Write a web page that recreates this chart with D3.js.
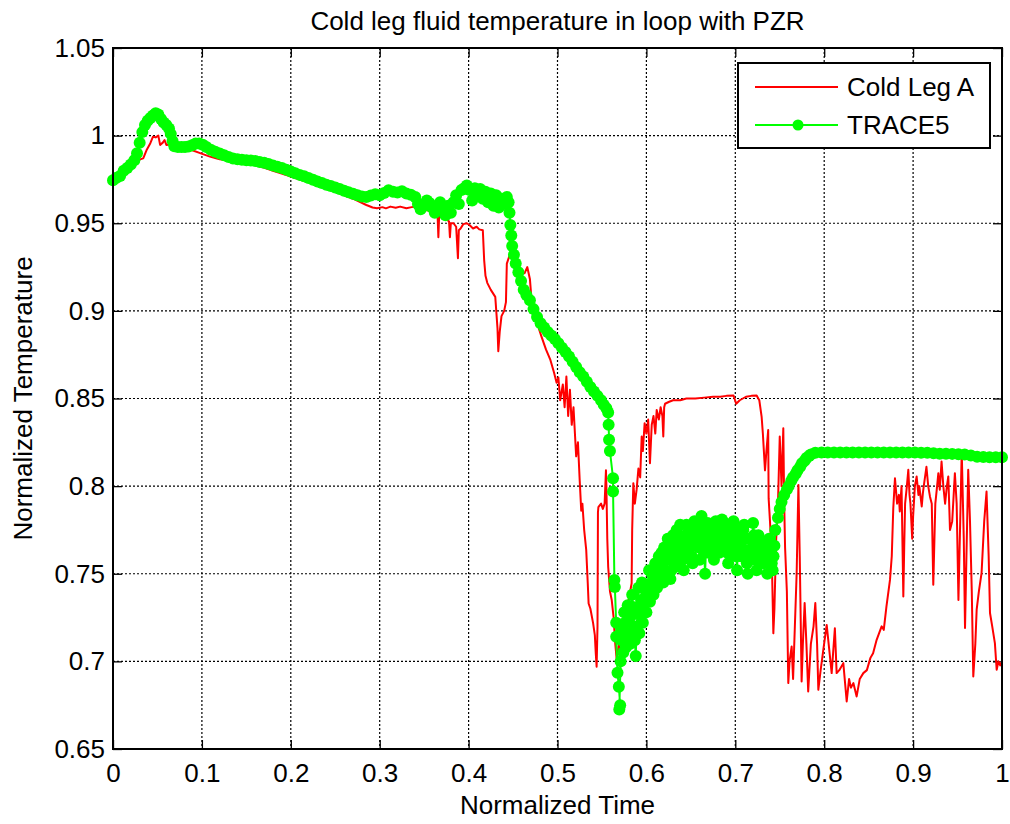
<!DOCTYPE html>
<html>
<head>
<meta charset="utf-8">
<script src="https://cdn.jsdelivr.net/npm/d3@7/dist/d3.min.js"></script>
<style>
  html, body { margin: 0; padding: 0; background: #fff; }
  svg text { font-family: "Liberation Sans", Arial, sans-serif; fill: #000; }
</style>
</head>
<body>
<svg id="chart" width="1010" height="824"></svg>
<script>
// ---- data ----------------------------------------------------------------
const xTicks = [0, 0.1, 0.2, 0.3, 0.4, 0.5, 0.6, 0.7, 0.8, 0.9, 1];
const yTicks = [0.65, 0.7, 0.75, 0.8, 0.85, 0.9, 0.95, 1, 1.05];
const xTickLabels = ["0", "0.1", "0.2", "0.3", "0.4", "0.5", "0.6", "0.7", "0.8", "0.9", "1"];
const yTickLabels = ["0.65", "0.7", "0.75", "0.8", "0.85", "0.9", "0.95", "1", "1.05"];
const seriesNames = ["Cold Leg A", "TRACE5"];

// Cold Leg A (red line)
const coldLegA = [
  [0.000, 0.9745], [0.008, 0.9770], [0.016, 0.9800], [0.022, 0.9830], [0.028, 0.9860],
  [0.034, 0.9870], [0.038, 0.9920], [0.042, 0.9957], [0.045, 0.9994], [0.048, 0.9990],
  [0.051, 1.0000], [0.053, 0.9947], [0.056, 0.9960], [0.058, 0.9975], [0.060, 0.9947],
  [0.064, 0.9950], [0.068, 0.9957], [0.072, 0.9945], [0.080, 0.9930], [0.090, 0.9915],
  [0.098, 0.9900], [0.109, 0.9880], [0.120, 0.9865], [0.132, 0.9858], [0.143, 0.9850],
  [0.155, 0.9840], [0.168, 0.9820], [0.180, 0.9800], [0.195, 0.9775], [0.210, 0.9750],
  [0.225, 0.9725], [0.240, 0.9700], [0.255, 0.9670], [0.270, 0.9640], [0.285, 0.9604],
  [0.292, 0.9590], [0.297, 0.9586], [0.303, 0.9592], [0.307, 0.9585], [0.312, 0.9595],
  [0.318, 0.9588], [0.323, 0.9595], [0.330, 0.9586], [0.336, 0.9592], [0.342, 0.9595],
  [0.350, 0.9580], [0.356, 0.9570], [0.362, 0.9565], [0.365, 0.9560], [0.366, 0.9420],
  [0.367, 0.9560], [0.372, 0.9540], [0.376, 0.9520], [0.378, 0.9510], [0.379, 0.9420],
  [0.380, 0.9500], [0.383, 0.9500], [0.386, 0.9480], [0.388, 0.9300], [0.389, 0.9460],
  [0.391, 0.9470], [0.394, 0.9495], [0.398, 0.9500], [0.401, 0.9490], [0.405, 0.9470],
  [0.409, 0.9480], [0.412, 0.9465], [0.416, 0.9460], [0.4175, 0.9290], [0.419, 0.9200],
  [0.421, 0.9160], [0.425, 0.9120], [0.430, 0.9080], [0.4325, 0.8900], [0.4334, 0.8770],
  [0.435, 0.8880], [0.437, 0.8970], [0.440, 0.9000], [0.442, 0.9050], [0.443, 0.9270],
  [0.447, 0.9330], [0.452, 0.9250], [0.458, 0.9220], [0.463, 0.9215], [0.466, 0.9250],
  [0.469, 0.9180], [0.471, 0.9050], [0.475, 0.8990], [0.479, 0.8900], [0.482, 0.8853],
  [0.487, 0.8780], [0.492, 0.8720], [0.496, 0.8650], [0.499, 0.8590], [0.501, 0.8620],
  [0.503, 0.8490], [0.506, 0.8580], [0.508, 0.8450], [0.510, 0.8625], [0.512, 0.8400],
  [0.514, 0.8550], [0.516, 0.8350], [0.518, 0.8450], [0.521, 0.8170], [0.523, 0.8250],
  [0.525, 0.8030], [0.5267, 0.7860], [0.528, 0.7900], [0.530, 0.7750], [0.5323, 0.7636],
  [0.534, 0.7450], [0.535, 0.7330], [0.537, 0.7300], [0.540, 0.7220], [0.542, 0.7150],
  [0.543, 0.7050], [0.544, 0.6970], [0.545, 0.7200], [0.5455, 0.7850], [0.546, 0.7880],
  [0.549, 0.7900], [0.551, 0.7870], [0.553, 0.7900], [0.5545, 0.8090], [0.555, 0.8000],
  [0.556, 0.7700], [0.557, 0.7540], [0.559, 0.7400], [0.561, 0.7350], [0.563, 0.7256],
  [0.565, 0.7100], [0.5666, 0.7010], [0.569, 0.7100], [0.572, 0.7030], [0.574, 0.7066],
  [0.577, 0.7200], [0.580, 0.7350], [0.5834, 0.7446], [0.584, 0.7750], [0.5853, 0.8017],
  [0.587, 0.7900], [0.589, 0.7980], [0.591, 0.8100], [0.593, 0.8050], [0.5947, 0.8283],
  [0.596, 0.8200], [0.598, 0.8359], [0.600, 0.8300], [0.602, 0.8380], [0.604, 0.8131],
  [0.606, 0.8350], [0.608, 0.8400], [0.610, 0.8300], [0.6116, 0.8435], [0.614, 0.8380],
  [0.616, 0.8450], [0.618, 0.8400], [0.619, 0.8283], [0.620, 0.8450], [0.621, 0.8470],
  [0.625, 0.8480], [0.630, 0.8490], [0.638, 0.8490], [0.645, 0.8500], [0.655, 0.8500],
  [0.665, 0.8505], [0.675, 0.8510], [0.683, 0.8510], [0.690, 0.8515], [0.698, 0.8517],
  [0.701, 0.8470], [0.705, 0.8490], [0.712, 0.8510], [0.718, 0.8515], [0.724, 0.8517],
  [0.727, 0.8490], [0.7296, 0.8397], [0.731, 0.8300], [0.7334, 0.8090], [0.735, 0.8200],
  [0.737, 0.8320], [0.7375, 0.7930], [0.739, 0.7800], [0.741, 0.7600], [0.7428, 0.7160],
  [0.744, 0.7300], [0.746, 0.7700], [0.748, 0.7900], [0.750, 0.8283], [0.752, 0.8000],
  [0.754, 0.8330], [0.755, 0.7900], [0.756, 0.7650], [0.758, 0.7400], [0.7596, 0.6876],
  [0.761, 0.7000], [0.7634, 0.7085], [0.765, 0.6900], [0.767, 0.7200], [0.769, 0.7500],
  [0.771, 0.8007], [0.7725, 0.7600], [0.7746, 0.6885], [0.776, 0.7100], [0.778, 0.7333],
  [0.780, 0.7100], [0.782, 0.6828], [0.785, 0.7100], [0.788, 0.7200], [0.790, 0.7333],
  [0.792, 0.7100], [0.7934, 0.6838], [0.796, 0.6950], [0.799, 0.7066], [0.8028, 0.7208],
  [0.805, 0.7100], [0.8084, 0.6933], [0.812, 0.7189], [0.814, 0.6933], [0.817, 0.6950],
  [0.8215, 0.6990], [0.8253, 0.6771], [0.828, 0.6900], [0.830, 0.6850], [0.8328, 0.6876],
  [0.8365, 0.6800], [0.840, 0.6900], [0.844, 0.6933], [0.848, 0.6950], [0.852, 0.7020],
  [0.855, 0.7047], [0.859, 0.7123], [0.8646, 0.7200], [0.867, 0.7180], [0.870, 0.7313],
  [0.874, 0.7465], [0.876, 0.7600], [0.8777, 0.7874], [0.8796, 0.8045], [0.882, 0.7900],
  [0.884, 0.7950], [0.885, 0.7855], [0.887, 0.8000], [0.889, 0.7370], [0.890, 0.7650],
  [0.891, 0.7900], [0.893, 0.8000], [0.8946, 0.8093], [0.896, 0.7950], [0.897, 0.7900],
  [0.899, 0.7700], [0.900, 0.7826], [0.902, 0.8000], [0.904, 0.8055], [0.906, 0.7950],
  [0.907, 0.8000], [0.9097, 0.7884], [0.911, 0.7960], [0.912, 0.8000], [0.915, 0.8110],
  [0.917, 0.8000], [0.919, 0.7940], [0.921, 0.7900], [0.9227, 0.7437], [0.925, 0.7900],
  [0.927, 0.8000], [0.9284, 0.8074], [0.930, 0.7980], [0.932, 0.8140], [0.934, 0.8000],
  [0.936, 0.7900], [0.938, 0.8000], [0.9396, 0.8055], [0.9415, 0.7750], [0.944, 0.7800],
  [0.947, 0.8074], [0.949, 0.7900], [0.951, 0.7350], [0.953, 0.7800], [0.9547, 0.8197],
  [0.957, 0.7700], [0.9584, 0.7190], [0.960, 0.7600], [0.962, 0.8093], [0.964, 0.7800],
  [0.966, 0.7400], [0.9677, 0.6914], [0.970, 0.7100], [0.9715, 0.7295], [0.974, 0.7400],
  [0.977, 0.7503], [0.980, 0.7800], [0.9826, 0.7969], [0.985, 0.7600], [0.9865, 0.7276],
  [0.989, 0.7200], [0.992, 0.7104], [0.994, 0.6952], [0.996, 0.7000], [0.998, 0.6977],
  [1.000, 0.7000]
];

// TRACE5 (green line with dot markers)
const trace5 = [
  [0.000, 0.9745], [0.004, 0.9760], [0.008, 0.9770], [0.012, 0.9800], [0.016, 0.9815],
  [0.020, 0.9835], [0.024, 0.9860], [0.027, 0.9900], [0.030, 0.9960], [0.033, 1.0020],
  [0.036, 1.0060], [0.039, 1.0085], [0.042, 1.0100], [0.045, 1.0115], [0.048, 1.0128],
  [0.051, 1.0120], [0.054, 1.0095], [0.057, 1.0075], [0.060, 1.0060], [0.063, 1.0040],
  [0.065, 1.0010], [0.067, 0.9970], [0.069, 0.9940], [0.073, 0.9935], [0.077, 0.9935],
  [0.081, 0.9935], [0.085, 0.9938], [0.089, 0.9945], [0.093, 0.9955], [0.097, 0.9955],
  [0.101, 0.9948], [0.105, 0.9935], [0.110, 0.9920], [0.115, 0.9908], [0.120, 0.9898],
  [0.125, 0.9888], [0.130, 0.9878], [0.135, 0.9870], [0.140, 0.9865], [0.145, 0.9862],
  [0.150, 0.9860], [0.155, 0.9858], [0.160, 0.9855], [0.165, 0.9850], [0.170, 0.9845],
  [0.175, 0.9838], [0.180, 0.9830], [0.185, 0.9822], [0.190, 0.9815], [0.195, 0.9805],
  [0.200, 0.9795], [0.205, 0.9785], [0.210, 0.9776], [0.215, 0.9768], [0.220, 0.9758],
  [0.225, 0.9748], [0.230, 0.9738], [0.235, 0.9730], [0.240, 0.9720], [0.245, 0.9712],
  [0.250, 0.9704], [0.255, 0.9695], [0.260, 0.9686], [0.265, 0.9677], [0.270, 0.9668],
  [0.275, 0.9660], [0.280, 0.9652], [0.285, 0.9650], [0.290, 0.9658], [0.295, 0.9665],
  [0.300, 0.9660], [0.305, 0.9672], [0.310, 0.9688], [0.315, 0.9680], [0.320, 0.9675],
  [0.325, 0.9682], [0.330, 0.9670], [0.335, 0.9662], [0.340, 0.9650], [0.343, 0.9610],
  [0.346, 0.9580], [0.350, 0.9600], [0.353, 0.9630], [0.356, 0.9615], [0.359, 0.9590],
  [0.362, 0.9560], [0.365, 0.9600], [0.368, 0.9620], [0.371, 0.9570], [0.374, 0.9545],
  [0.377, 0.9600], [0.380, 0.9560], [0.383, 0.9620], [0.386, 0.9660], [0.389, 0.9610],
  [0.392, 0.9690], [0.395, 0.9700], [0.398, 0.9715], [0.401, 0.9690], [0.404, 0.9630],
  [0.407, 0.9700], [0.410, 0.9660], [0.413, 0.9695], [0.416, 0.9640], [0.419, 0.9680],
  [0.422, 0.9620], [0.425, 0.9670], [0.428, 0.9600], [0.431, 0.9660], [0.434, 0.9590],
  [0.437, 0.9640], [0.440, 0.9610], [0.443, 0.9650], [0.445, 0.9620], [0.446, 0.9560],
  [0.447, 0.9490], [0.448, 0.9430], [0.449, 0.9370], [0.451, 0.9320], [0.453, 0.9270],
  [0.456, 0.9220], [0.459, 0.9170], [0.462, 0.9120], [0.465, 0.9090], [0.469, 0.9060],
  [0.473, 0.9010], [0.477, 0.8965], [0.481, 0.8930], [0.485, 0.8905], [0.489, 0.8880],
  [0.493, 0.8860], [0.497, 0.8840], [0.501, 0.8815], [0.505, 0.8790], [0.509, 0.8765],
  [0.513, 0.8740], [0.517, 0.8710], [0.521, 0.8680], [0.525, 0.8650], [0.529, 0.8625],
  [0.533, 0.8595], [0.537, 0.8565], [0.541, 0.8540], [0.545, 0.8515], [0.549, 0.8490],
  [0.552, 0.8465], [0.555, 0.8445], [0.557, 0.8420], [0.5575, 0.8350], [0.558, 0.8265],
  [0.559, 0.8200], [0.5625, 0.8045], [0.5625, 0.7970], [0.564, 0.7465], [0.5645, 0.7425],
  [0.566, 0.7220], [0.566, 0.7140], [0.5675, 0.6935], [0.569, 0.6855], [0.5705, 0.6750],
  [0.5695, 0.6725], [0.571, 0.7000], [0.572, 0.7120], [0.573, 0.7180], [0.574, 0.7050],
  [0.575, 0.7280], [0.576, 0.7220], [0.577, 0.7080], [0.578, 0.7120], [0.579, 0.7320],
  [0.580, 0.7280], [0.581, 0.7160], [0.582, 0.7100], [0.583, 0.7260], [0.584, 0.7380],
  [0.585, 0.7310], [0.586, 0.7200], [0.587, 0.7120], [0.588, 0.7030], [0.589, 0.7180],
  [0.590, 0.7300], [0.591, 0.7420], [0.592, 0.7160], [0.593, 0.7270], [0.594, 0.7350],
  [0.595, 0.7450], [0.596, 0.7220], [0.597, 0.7330], [0.598, 0.7420], [0.599, 0.7360],
  [0.600, 0.7280], [0.601, 0.7380], [0.602, 0.7440], [0.603, 0.7520], [0.604, 0.7340],
  [0.605, 0.7410], [0.606, 0.7500], [0.607, 0.7450], [0.608, 0.7380], [0.609, 0.7480],
  [0.610, 0.7560], [0.611, 0.7500], [0.612, 0.7420], [0.613, 0.7520], [0.614, 0.7600],
  [0.615, 0.7550], [0.616, 0.7480], [0.617, 0.7620], [0.618, 0.7540], [0.619, 0.7450],
  [0.620, 0.7650], [0.621, 0.7580], [0.622, 0.7500], [0.623, 0.7620], [0.624, 0.7700],
  [0.625, 0.7640], [0.626, 0.7580], [0.627, 0.7470], [0.628, 0.7520], [0.629, 0.7660],
  [0.630, 0.7720], [0.631, 0.7680], [0.632, 0.7600], [0.633, 0.7540], [0.634, 0.7750],
  [0.635, 0.7680], [0.636, 0.7550], [0.637, 0.7620], [0.638, 0.7780], [0.639, 0.7710],
  [0.640, 0.7640], [0.641, 0.7580], [0.642, 0.7520], [0.643, 0.7660], [0.644, 0.7720],
  [0.645, 0.7780], [0.646, 0.7600], [0.647, 0.7690], [0.648, 0.7760], [0.649, 0.7710],
  [0.650, 0.7660], [0.651, 0.7600], [0.652, 0.7560], [0.653, 0.7700], [0.654, 0.7800],
  [0.655, 0.7740], [0.656, 0.7680], [0.657, 0.7780], [0.658, 0.7740], [0.659, 0.7650],
  [0.660, 0.7580], [0.661, 0.7710], [0.662, 0.7830], [0.663, 0.7770], [0.664, 0.7700],
  [0.665, 0.7620], [0.666, 0.7500], [0.667, 0.7640], [0.668, 0.7720], [0.669, 0.7790],
  [0.670, 0.7620], [0.671, 0.7700], [0.672, 0.7780], [0.673, 0.7720], [0.674, 0.7660],
  [0.675, 0.7740], [0.676, 0.7580], [0.677, 0.7680], [0.678, 0.7800], [0.679, 0.7750],
  [0.680, 0.7700], [0.681, 0.7640], [0.682, 0.7620], [0.683, 0.7700], [0.684, 0.7760],
  [0.685, 0.7810], [0.686, 0.7640], [0.687, 0.7720], [0.688, 0.7790], [0.689, 0.7740],
  [0.690, 0.7680], [0.691, 0.7620], [0.692, 0.7560], [0.693, 0.7650], [0.694, 0.7720],
  [0.695, 0.7670], [0.696, 0.7620], [0.697, 0.7750], [0.698, 0.7800], [0.699, 0.7740],
  [0.700, 0.7680], [0.701, 0.7600], [0.702, 0.7520], [0.703, 0.7660], [0.704, 0.7750],
  [0.705, 0.7700], [0.706, 0.7600], [0.707, 0.7650], [0.708, 0.7700], [0.709, 0.7750],
  [0.710, 0.7780], [0.711, 0.7700], [0.712, 0.7620], [0.713, 0.7560], [0.714, 0.7500],
  [0.715, 0.7620], [0.716, 0.7700], [0.717, 0.7640], [0.718, 0.7580], [0.719, 0.7700],
  [0.720, 0.7790], [0.721, 0.7720], [0.722, 0.7660], [0.723, 0.7580], [0.724, 0.7520],
  [0.725, 0.7640], [0.726, 0.7720], [0.727, 0.7660], [0.728, 0.7600], [0.729, 0.7640],
  [0.730, 0.7680], [0.731, 0.7620], [0.732, 0.7560], [0.733, 0.7600], [0.734, 0.7640],
  [0.735, 0.7580], [0.736, 0.7500], [0.737, 0.7620], [0.738, 0.7700], [0.739, 0.7660],
  [0.740, 0.7600], [0.741, 0.7560], [0.742, 0.7520], [0.743, 0.7600], [0.744, 0.7660],
  [0.745, 0.7750], [0.748, 0.7820], [0.750, 0.7870], [0.752, 0.7910], [0.755, 0.7950],
  [0.758, 0.7980], [0.760, 0.8000], [0.763, 0.8030], [0.765, 0.8050], [0.768, 0.8070],
  [0.770, 0.8090], [0.773, 0.8110], [0.775, 0.8130], [0.778, 0.8145], [0.780, 0.8160],
  [0.783, 0.8172], [0.785, 0.8180], [0.790, 0.8190], [0.797, 0.8192], [0.804, 0.8192],
  [0.811, 0.8192], [0.818, 0.8192], [0.825, 0.8192], [0.832, 0.8192], [0.839, 0.8192],
  [0.846, 0.8192], [0.853, 0.8192], [0.860, 0.8192], [0.867, 0.8192], [0.874, 0.8192],
  [0.881, 0.8192], [0.888, 0.8192], [0.895, 0.8192], [0.902, 0.8192], [0.909, 0.8191],
  [0.916, 0.8191], [0.923, 0.8188], [0.930, 0.8185], [0.937, 0.8185], [0.944, 0.8184],
  [0.951, 0.8182], [0.958, 0.8180], [0.965, 0.8175], [0.972, 0.8168], [0.979, 0.8166],
  [0.986, 0.8165], [0.993, 0.8165], [1.000, 0.8165]
];

// ---- layout -------------------------------------------------------------
const W = 1010, H = 824;
const M = { left: 113, top: 48, right: 1010 - 1002, bottom: 824 - 749 };
const iw = W - M.left - M.right, ih = H - M.top - M.bottom;
const RED = "#ff0000", GREEN = "#00ff00";
const markerR = 6;

const svg = d3.select("#chart");
svg.append("rect").attr("width", W).attr("height", H).attr("fill", "#fff");

const x = d3.scaleLinear().domain([0, 1]).range([0, iw]);
const y = d3.scaleLinear().domain([0.65, 1.05]).range([ih, 0]);

const g = svg.append("g").attr("transform", `translate(${M.left},${M.top})`);

// grid (dotted, like matlab "grid on")
g.append("g").selectAll("line").data(xTicks.slice(1, -1)).enter().append("line")
  .attr("x1", (d) => x(d)).attr("x2", (d) => x(d)).attr("y1", 0).attr("y2", ih)
  .attr("stroke", "#000").attr("stroke-width", 1.2).attr("stroke-dasharray", "2,2");
g.append("g").selectAll("line").data(yTicks.slice(1, -1)).enter().append("line")
  .attr("y1", (d) => y(d)).attr("y2", (d) => y(d)).attr("x1", 0).attr("x2", iw)
  .attr("stroke", "#000").attr("stroke-width", 1.2).attr("stroke-dasharray", "2,2");

// axes: ticks point inwards, mirrored on top/right
const tickLen = 9;
const xAxis = d3.axisBottom(x).tickValues(xTicks).tickSize(-tickLen).tickPadding(15)
  .tickFormat((d, i) => xTickLabels[i]);
const yAxis = d3.axisLeft(y).tickValues(yTicks).tickSize(-tickLen).tickPadding(8)
  .tickFormat((d, i) => yTickLabels[i]);
const xTop = d3.axisTop(x).tickValues(xTicks).tickSize(-tickLen).tickFormat("");
const yRight = d3.axisRight(y).tickValues(yTicks).tickSize(-tickLen).tickFormat("");

function styleAxis(sel) {
  sel.select(".domain").remove();
  sel.selectAll(".tick line").attr("stroke", "#000").attr("stroke-width", 1.3);
  sel.selectAll(".tick text").attr("font-size", 26).attr("font-family", "Liberation Sans, Arial, sans-serif").attr("fill", "#000");
}
g.append("g").attr("transform", `translate(0,${ih})`).call(xAxis).call(styleAxis);
g.append("g").call(yAxis).call(styleAxis);
g.append("g").call(xTop).call(styleAxis);
g.append("g").attr("transform", `translate(${iw},0)`).call(yRight).call(styleAxis);

// series
const line = d3.line().x((d) => x(d[0])).y((d) => y(d[1]));
g.append("path").datum(coldLegA).attr("d", line)
  .attr("fill", "none").attr("stroke", RED).attr("stroke-width", 2).attr("stroke-linejoin", "round");
g.append("path").datum(trace5).attr("d", line)
  .attr("fill", "none").attr("stroke", GREEN).attr("stroke-width", 2).attr("stroke-linejoin", "round");
g.append("g").selectAll("circle").data(trace5).enter().append("circle")
  .attr("cx", (d) => x(d[0])).attr("cy", (d) => y(d[1])).attr("r", markerR).attr("fill", GREEN);

// axes box
g.append("rect").attr("width", iw).attr("height", ih)
  .attr("fill", "none").attr("stroke", "#000").attr("stroke-width", 2);

// legend
const lg = g.append("g").attr("transform", `translate(${738 - M.left},${63 - M.top})`);
lg.append("rect").attr("width", 252).attr("height", 85)
  .attr("fill", "#fff").attr("stroke", "#000").attr("stroke-width", 2);
const rowsY = [24, 62];
const legendColors = [RED, GREEN];
seriesNames.forEach((name, i) => {
  lg.append("line").attr("x1", 17).attr("x2", 100).attr("y1", rowsY[i]).attr("y2", rowsY[i])
    .attr("stroke", legendColors[i]).attr("stroke-width", 2);
  if (i === 1) lg.append("circle").attr("cx", 60).attr("cy", rowsY[i]).attr("r", 5.5).attr("fill", GREEN);
  lg.append("text").attr("x", 109).attr("y", rowsY[i]).attr("dy", "0.35em")
    .attr("font-size", 26).text(name);
});

// title and axis labels
svg.append("text").attr("x", M.left + iw / 2).attr("y", 30).attr("text-anchor", "middle")
  .attr("font-size", 26).text("Cold leg fluid temperature in loop with PZR");
svg.append("text").attr("x", M.left + iw / 2).attr("y", 814).attr("text-anchor", "middle")
  .attr("font-size", 26).text("Normalized Time");
svg.append("text").attr("transform", `translate(32,${M.top + ih / 2}) rotate(-90)`)
  .attr("text-anchor", "middle").attr("font-size", 26).text("Normalized Temperature");
</script>
</body>
</html>
